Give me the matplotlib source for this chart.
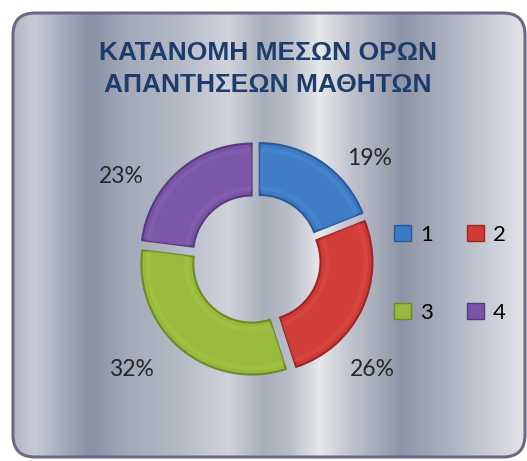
import numpy as np
import matplotlib.pyplot as plt
from matplotlib.patches import FancyBboxPatch, Patch
from matplotlib.colors import LinearSegmentedColormap

# data
groups = ['1', '2', '3', '4']
shares = [19, 26, 32, 23]
title = 'ΚΑΤΑΝΟΜΗ ΜΕΣΩΝ ΟΡΩΝ\nΑΠΑΝΤΗΣΕΩΝ ΜΑΘΗΤΩΝ'

cols = ['#3b7ac4', '#cf3a36', '#97b93c', '#7853a6']
edge = ['#2a5a96', '#9a2624', '#6e8a26', '#563b7c']
light = ['#5c96da', '#e25a55', '#aed052', '#9270bf']

W, H = 527, 461
fig = plt.figure(figsize=(W / 100, H / 100), dpi=100)
fig.patch.set_facecolor('white')

# background panel, coordinates in pixels
bg = fig.add_axes([0, 0, 1, 1])
bg.set_xlim(0, W)
bg.set_ylim(H, 0)
bg.axis('off')

stops = [(0.0, '#b4b8c6'), (0.04, '#c6cad3'), (0.11, '#9ea4b5'), (0.15, '#8a90a4'),
         (0.22, '#a3a9b9'), (0.31, '#b2b7c4'), (0.42, '#d0d3da'), (0.49, '#a9aebc'),
         (0.54, '#b9bdc8'), (0.60, '#e7e8eb'), (0.65, '#c6c9d2'), (0.76, '#8e94a7'),
         (0.84, '#a9aebd'), (0.93, '#c9ccd5'), (1.0, '#e3e4e8')]
cmap = LinearSegmentedColormap.from_list('silver', stops)
x0, y0, x1, y1 = 13, 13, 525, 457
panel = FancyBboxPatch((x0, y0), x1 - x0, y1 - y0, boxstyle='round,pad=0,rounding_size=22',
                       facecolor='none', edgecolor='#6c6886', linewidth=2.2, zorder=3)
bg.add_patch(panel)
grad = np.linspace(0, 1, 512)[None, :]
im = bg.imshow(grad, cmap=cmap, extent=(x0, x1, y1, y0), aspect='auto', zorder=1)
im.set_clip_path(panel)

bg.text(268, 69, title, ha='center', va='center', fontsize=19, color='#1c3d6c',
        family=['Liberation Sans Narrow', 'Liberation Sans', 'DejaVu Sans'],
        fontweight='bold', linespacing=1.45)

# donut
cx, cy, R = 256, 259, 115
half = 1.2 * R
ax = fig.add_axes([(cx - half) / W, (H - cy - half) / H, 2 * half / W, 2 * half / H])
ax.set_xlim(-1.2, 1.2)
ax.set_ylim(-1.2, 1.2)
ax.axis('off')
expl = [0.06] * len(shares)
wedges, _ = ax.pie(shares, colors=cols, startangle=90, counterclock=False, explode=expl,
                   wedgeprops=dict(width=0.47, edgecolor='none'))
for w, e in zip(wedges, edge):
    w.set_edgecolor(e)
    w.set_linewidth(1.5)
ax.pie(shares, colors=light, startangle=90, counterclock=False, explode=expl, radius=0.96,
       wedgeprops=dict(width=0.39, edgecolor='none', alpha=0.35))
ax.pie(shares, colors=cols, startangle=90, counterclock=False, explode=expl, radius=0.92,
       wedgeprops=dict(width=0.31, edgecolor='none', alpha=0.6))

# percentage labels (placed like the original best-fit positions)
lab_pos = [(1.03, 0.91), (1.05, -1.0), (-1.13, -1.0), (-1.22, 0.75)]
for v, (lx, ly) in zip(shares, lab_pos):
    ax.text(lx, ly, f'{v}%', ha='center', va='center', fontsize=16.5, color='#262626',
            family=['Lato', 'DejaVu Sans'], clip_on=False)

# legend fills column-wise, so order handles to get 1 2 / 3 4 rows
order = [0, 2, 1, 3]
handles = [Patch(facecolor=cols[i], edgecolor=edge[i], linewidth=1) for i in order]
fig.legend(handles, [groups[i] for i in order], ncol=2, loc='center',
           bbox_to_anchor=(450 / W, 1 - 274 / H),
           frameon=False, handlelength=0.75, handleheight=0.75,
           handletextpad=0.4, columnspacing=1.55, labelspacing=2.6,
           prop=dict(family=['Lato', 'DejaVu Sans'], size=16))

fig.savefig('out.png', dpi=100)
